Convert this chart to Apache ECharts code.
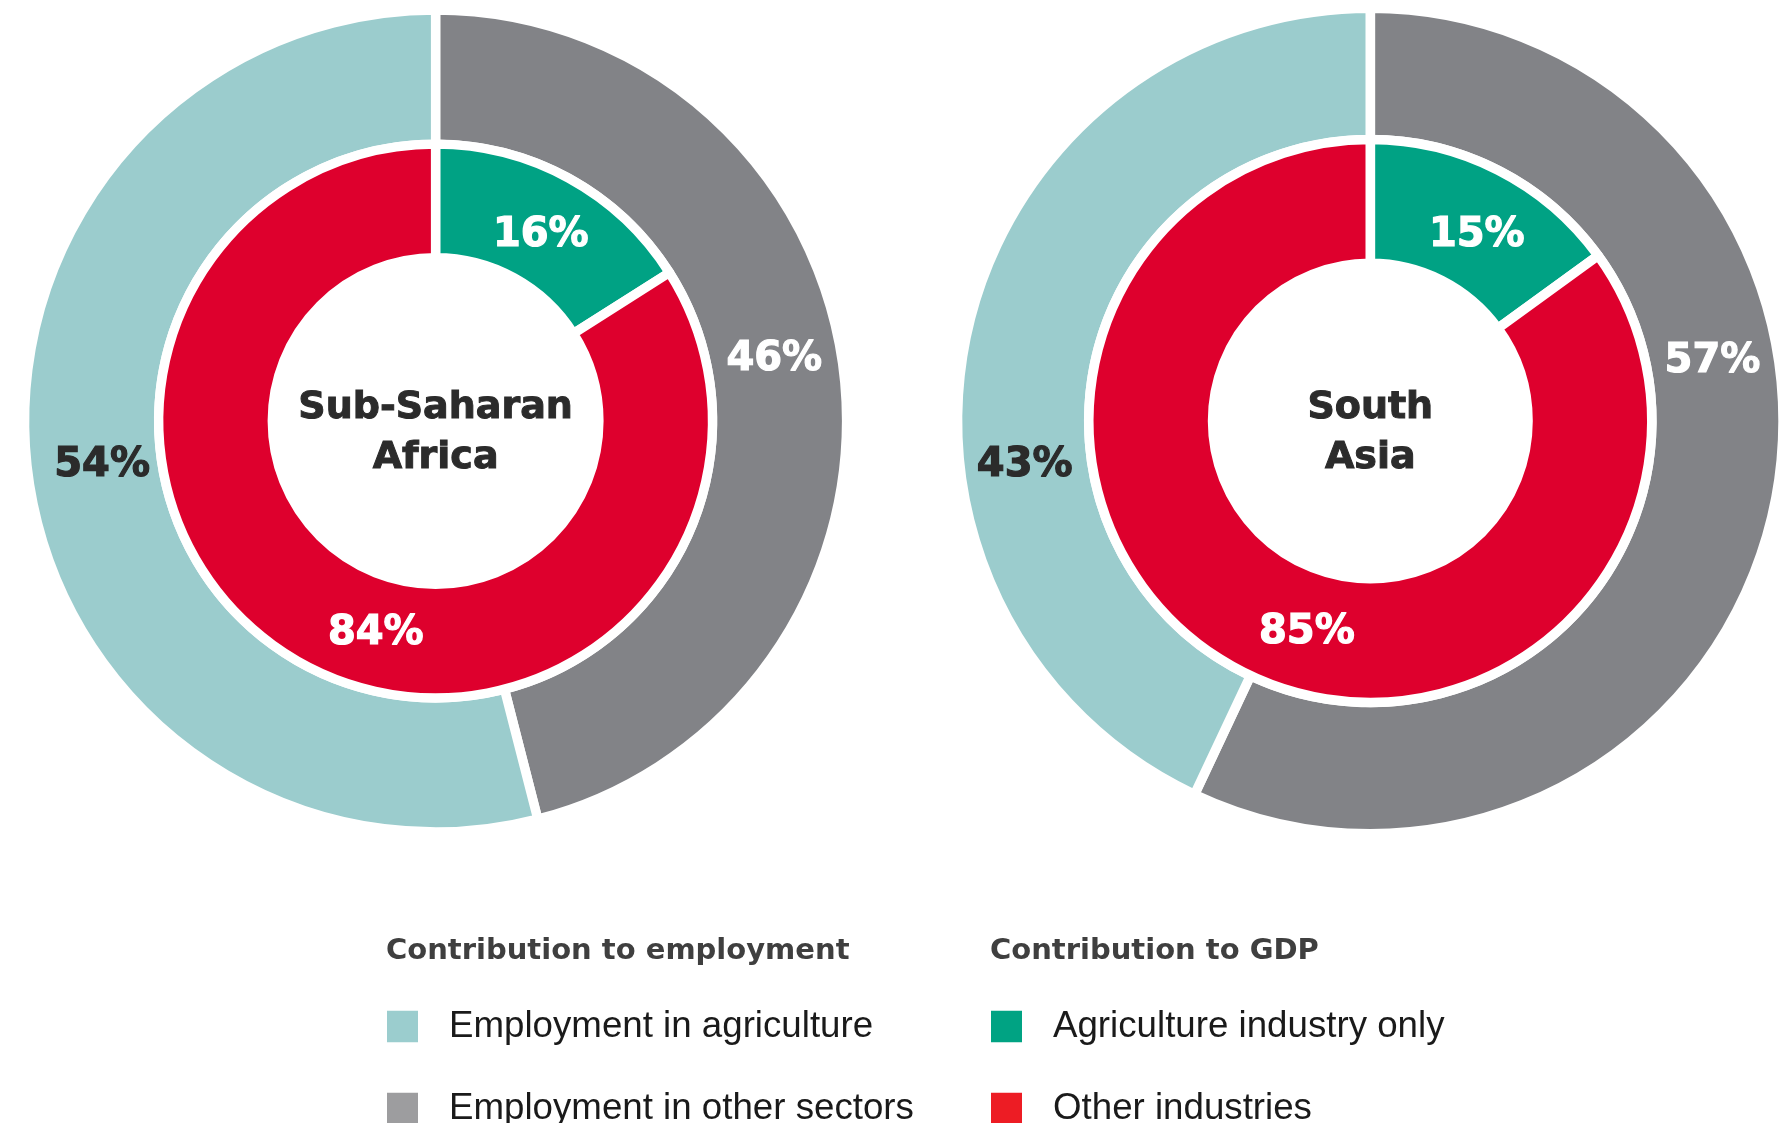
<!DOCTYPE html>
<html>
<head>
<meta charset="utf-8">
<script src="https://cdn.jsdelivr.net/npm/echarts@6/dist/echarts.min.js"></script>
<style>
  html, body { margin: 0; padding: 0; background: #ffffff; }
  #chart { width: 1788px; height: 1123px; }
</style>
</head>
<body>
<div id="chart"></div>
<script>
// ---------------- DATA ----------------
const regionLabels = ['Sub-Saharan\nAfrica', 'South\nAsia'];
const employmentCategories = ['Employment in other sectors', 'Employment in agriculture'];
const gdpCategories = ['Agriculture industry only', 'Other industries'];
const employmentSSA = [46, 54];
const employmentSA = [57, 43];
const gdpSSA = [16, 84];
const gdpSA = [15, 85];
const legendEmployment = ['Employment in agriculture', 'Employment in other sectors'];
const legendGDP = ['Agriculture industry only', 'Other industries'];
const legendTitles = ['Contribution to employment', 'Contribution to GDP'];

// ---------------- LAYOUT / STYLE ----------------
const PIE = [
  { cx: 435.6, cy: 421, outer: [281.6, 406.3], inner: [168, 272.2], gap: 9.4 },
  { cx: 1370.3, cy: 421, outer: [286.3, 408], inner: [162.5, 276.7], gap: 9.6 }
];
// label placement: angle (degrees clockwise from 12 o'clock) and radius per slice
const OUTER_LABEL_ANGLE = [[79, 263], [79.5, 263.3]];
const OUTER_LABEL_R = [[345, 336], [348, 348]];
const INNER_LABEL_ANGLE = [[29, 196], [29.4, 197]];
const INNER_LABEL_R = [[217, 217], [217, 217]];
const LABEL_DY = 4;

const COL = {
  agri: '#9BCCCD', other: '#828387', green: '#00A284', red: '#DE002D',
  legendOther: '#9D9D9F', legendRed: '#ED1C24', legendAgri: '#9BCDCE', legendGreen: '#00A383'
};
const LABEL_FONT = { fontFamily: 'DejaVu Sans', fontWeight: 'bold', fontSize: 40, textBorderWidth: 1.2 };

const empData = [employmentSSA, employmentSA];
const gdpData = [gdpSSA, gdpSA];

function makeLabelLayout(pieIdx, radii, angles) {
  const p = PIE[pieIdx];
  return function (params) {
    const a = angles[params.dataIndex] * Math.PI / 180;
    const r = radii[params.dataIndex];
    return {
      x: p.cx + r * Math.sin(a),
      y: p.cy - r * Math.cos(a) + LABEL_DY,
      align: 'center',
      verticalAlign: 'middle'
    };
  };
}

const series = [];
PIE.forEach((p, i) => {
  const h = p.gap / 2;
  // outer ring: employment
  series.push({
    type: 'pie',
    center: [p.cx, p.cy],
    radius: [p.outer[0] - h, p.outer[1] + h],
    startAngle: 90,
    clockwise: true,
    silent: true,
    animation: false,
    itemStyle: { borderColor: '#ffffff', borderWidth: p.gap },
    label: { show: true, position: 'inside', formatter: '{c}%', ...LABEL_FONT },
    labelLine: { show: false },
    labelLayout: makeLabelLayout(i, OUTER_LABEL_R[i], OUTER_LABEL_ANGLE[i]),
    emphasis: { disabled: true },
    data: employmentCategories.map((name, k) => ({
      name,
      value: empData[i][k],
      itemStyle: { color: k === 0 ? COL.other : COL.agri },
      label: k === 0
        ? { color: '#ffffff', textBorderColor: '#ffffff' }
        : { color: '#2b2b2b', textBorderColor: '#2b2b2b' }
    }))
  });
  // inner ring: GDP
  series.push({
    type: 'pie',
    center: [p.cx, p.cy],
    radius: [p.inner[0] - h, p.inner[1] + h],
    startAngle: 90,
    clockwise: true,
    silent: true,
    animation: false,
    itemStyle: { borderColor: '#ffffff', borderWidth: p.gap },
    label: { show: true, position: 'inside', formatter: '{c}%', color: '#ffffff', textBorderColor: '#ffffff', ...LABEL_FONT },
    labelLine: { show: false },
    labelLayout: makeLabelLayout(i, INNER_LABEL_R[i], INNER_LABEL_ANGLE[i]),
    emphasis: { disabled: true },
    data: gdpCategories.map((name, k) => ({
      name,
      value: gdpData[i][k],
      itemStyle: { color: k === 0 ? COL.green : COL.red }
    }))
  });
});

const legendColor = {
  'Employment in agriculture': COL.legendAgri,
  'Employment in other sectors': COL.legendOther,
  'Agriculture industry only': COL.legendGreen,
  'Other industries': COL.legendRed
};
function makeLegend(names, left) {
  return {
    orient: 'vertical',
    left: left,
    top: 1008,
    height: 200,
    padding: 0,
    itemWidth: 33,
    itemHeight: 33.5,
    itemGap: 45,
    icon: 'rect',
    selectedMode: false,
    textStyle: { fontFamily: 'Liberation Sans', fontSize: 36.7, lineHeight: 33, color: '#1a1a1a', padding: [0, 0, 0, 25] },
    data: names.map(n => ({ name: n, itemStyle: { color: legendColor[n] } }))
  };
}

const option = {
  backgroundColor: '#ffffff',
  animation: false,
  title: legendTitles.map((t, i) => ({
    text: t,
    left: i === 0 ? 386 : 990,
    top: 937,
    padding: 0,
    textStyle: { fontFamily: 'DejaVu Sans', fontWeight: 'bold', fontSize: 29, color: '#3f3f3f' }
  })),
  legend: [makeLegend(legendEmployment, 385), makeLegend(legendGDP, 989)],
  graphic: PIE.map((p, i) => ({
    type: 'text',
    x: p.cx,
    y: p.cy + 12,
    silent: true,
    style: {
      text: regionLabels[i],
      fontFamily: 'DejaVu Sans', fontWeight: 'bold', fontSize: 38, lineHeight: 50,
      fill: '#2b2b2b', stroke: '#2b2b2b', lineWidth: 1,
      align: 'center', verticalAlign: 'middle'
    }
  })),
  series: series
};

const chart = echarts.init(document.getElementById('chart'), null, { renderer: 'canvas' });
chart.setOption(option);
</script>
</body>
</html>
